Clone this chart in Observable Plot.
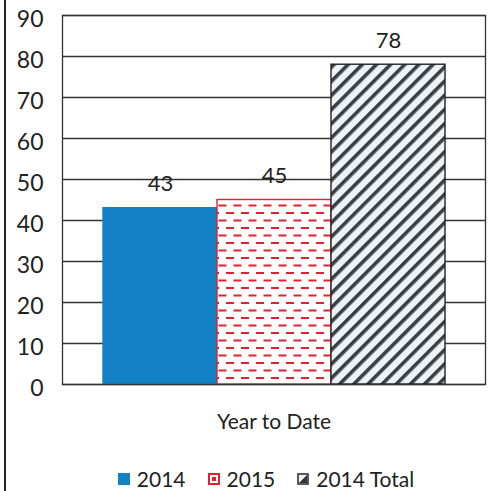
<!DOCTYPE html>
<html>
<head>
<meta charset="utf-8">
<script src="https://cdn.jsdelivr.net/npm/d3@7"></script>
<script src="https://cdn.jsdelivr.net/npm/@observablehq/plot@0.6"></script>
<style>
  html, body { margin: 0; padding: 0; background: #fff; }
  body { width: 492px; height: 491px; position: relative; overflow: hidden; font-family: Lato, "Open Sans", sans-serif; }
  #border { position: absolute; left: 4px; top: 0; width: 2px; height: 491px; background: #222; }
  #legend { position: absolute; left: 0; top: 467px; width: 492px; display: flex; justify-content: center; gap: 22px; font-size: 21px; line-height: 24px; color: #222; padding-left: 40px; box-sizing: border-box; }
  .item { display: flex; align-items: center; gap: 7px; }
  .item svg { display: block; }
</style>
</head>
<body>
<div id="border"></div>
<div id="chart"></div>
<div id="legend"></div>
<script>
const categories = ["Year to Date"];
const series = ["2014", "2015", "2014 Total"];
const values = [43, 45, 78];
const yTicks = [0, 10, 20, 30, 40, 50, 60, 70, 80, 90];
const fills = ["#1581c5", "url(#dashfill)", "url(#hatchfill)"];
const strokes = ["#1581c5", "#e3202e", "#222"];

const data = series.map((s, i) => ({category: categories[0], series: s, value: values[i]}));

const defsHTML = `
<pattern id="dashfill" patternUnits="userSpaceOnUse" width="15" height="15">
  <rect width="15" height="15" fill="#fff"/>
  <rect x="1" y="2" width="8" height="2" fill="#e3202e"/>
  <rect x="8.5" y="9.5" width="8" height="2" fill="#e3202e"/>
  <rect x="-6.5" y="9.5" width="8" height="2" fill="#e3202e"/>
</pattern>
<pattern id="hatchfill" patternUnits="userSpaceOnUse" width="10" height="10" patternTransform="rotate(45)">
  <rect width="10" height="10" fill="#eef3f7"/>
  <rect x="0" y="0" width="3.6" height="10" fill="#3a3f44"/>
</pattern>`;

const chart = Plot.plot({
  width: 492,
  height: 445,
  marginLeft: 62,
  marginRight: 7,
  marginTop: 15,
  marginBottom: 61,
  style: {fontFamily: "Lato, 'Open Sans', sans-serif", fontSize: "23px", color: "#222", background: "transparent", overflow: "visible"},
  fx: {domain: categories, padding: 0, label: null, axis: null},
  x: {domain: series, paddingInner: 0, paddingOuter: 0.355, axis: null},
  y: {domain: [0, 90], ticks: yTicks, label: null},
  color: {domain: series, range: fills},
  marks: [
    Plot.gridY(yTicks, {stroke: "#333", strokeOpacity: 1, strokeWidth: 1.3}),
    Plot.barY(data, {fx: "category", x: "series", y: "value", fill: "series", stroke: (d) => strokes[series.indexOf(d.series)], strokeWidth: 1.4}),
    Plot.text(data, {fx: "category", x: "series", y: "value", text: (d) => String(d.value), dy: -24, fontSize: 22, fill: "#222"}),
    Plot.frame({stroke: "#333", strokeWidth: 1.3}),
    Plot.axisY(yTicks, {tickSize: 0, tickPadding: 19, fontSize: 23, dy: 4}),
    Plot.axisFx({anchor: "bottom", tickSize: 0, tickPadding: 30, fontSize: 21, label: null})
  ]
});

const svgs = chart.tagName.toLowerCase() === "svg" ? chart : chart.querySelector("svg");
const defs = document.createElementNS("http://www.w3.org/2000/svg", "defs");
defs.innerHTML = defsHTML;
svgs.insertBefore(defs, svgs.firstChild);
document.getElementById("chart").appendChild(chart);

// legend
const legend = d3.select("#legend");
series.forEach((s, i) => {
  const item = legend.append("div").attr("class", "item");
  const sw = item.append("svg").attr("width", 12).attr("height", 12);
  if (i === 0) {
    sw.append("rect").attr("width", 12).attr("height", 12).attr("fill", "#1581c5");
  } else if (i === 1) {
    sw.append("rect").attr("x", 1).attr("y", 1).attr("width", 10).attr("height", 10).attr("fill", "#fff").attr("stroke", "#e3202e").attr("stroke-width", 2);
    sw.append("rect").attr("x", 4).attr("y", 4).attr("width", 4).attr("height", 4).attr("fill", "#e3202e");
  } else {
    sw.append("rect").attr("x", 1).attr("y", 1).attr("width", 10).attr("height", 10).attr("fill", "#eef3f7").attr("stroke", "#333").attr("stroke-width", 1.6);
    sw.append("path").attr("d", "M2,10 L10,2 L10,10 Z").attr("fill", "#333");
  }
  item.append("span").text(s);
});
</script>
</body>
</html>
